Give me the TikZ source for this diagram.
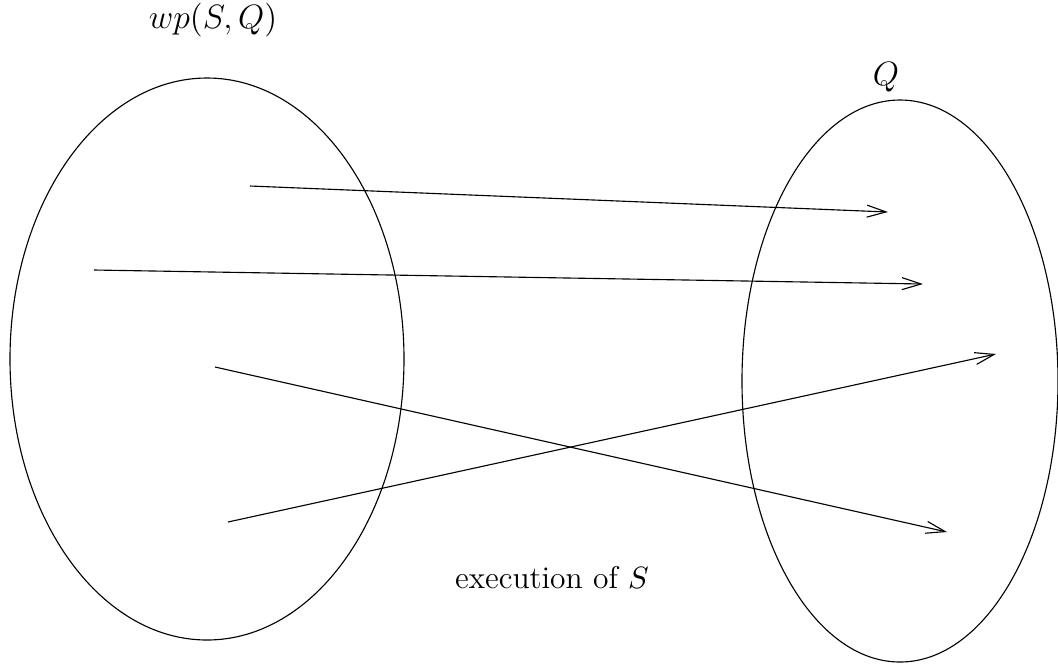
\documentclass[tikz,border=0pt]{standalone}
\usetikzlibrary{arrows.meta}

\tikzstyle{region}=[draw=black, thin]
\tikzstyle{maps to}=[draw=black, thin, -{Straight Barb[length=2.4mm, width=1.5mm]}]
\tikzstyle{label}=[inner sep=0pt]

\begin{document}
\begin{tikzpicture}[x=0.0125cm, y=-0.0125cm]
	\useasboundingbox (0,0) rectangle (1058,663);

	% The two sets of states
	\draw[region] (207,359) ellipse (197 and 281);
	\draw[region] (900,381) ellipse (158 and 281);

	\node[label] (pre) at (213,20) {\fontsize{13}{15}\selectfont $wp(S, Q)$};
	\node[label] (post) at (886,77) {\large $Q$};
	\node[label] (exec) at (552,578) {\fontsize{11.2}{13}\selectfont execution of $S$};

	% start and end states of the runs
	\coordinate (s1) at (250,186);
	\coordinate (s2) at (94,270);
	\coordinate (s3) at (215,367);
	\coordinate (s4) at (228,522);
	\coordinate (t1) at (888,212);
	\coordinate (t2) at (923,284);
	\coordinate (t3) at (947,532);
	\coordinate (t4) at (996,354);

	\foreach \i in {1,...,4}{ \draw[maps to] (s\i) -- (t\i); }
\end{tikzpicture}
\end{document}
